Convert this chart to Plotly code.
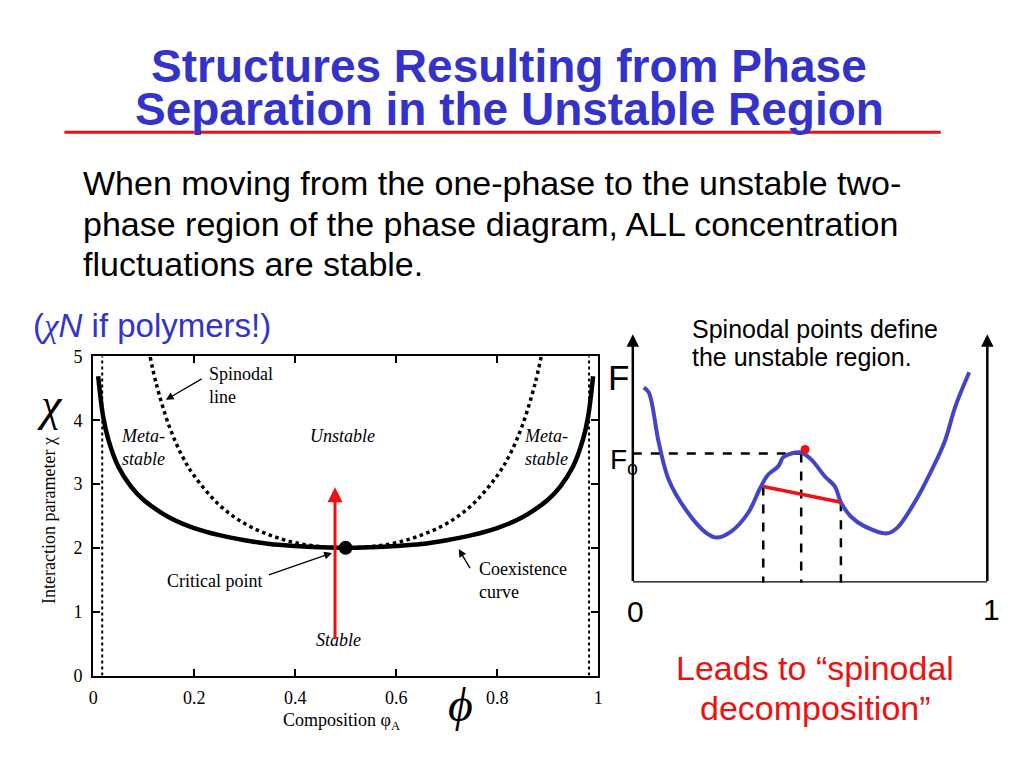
import plotly.graph_objects as go

# ---------------- data ----------------
# Left phase diagram
coex_phi = [0.01, 0.02, 0.03, 0.05, 0.075, 0.1, 0.15, 0.2, 0.25, 0.3, 0.35, 0.4, 0.45, 0.5,
            0.55, 0.6, 0.65, 0.7, 0.75, 0.8, 0.85, 0.9, 0.925, 0.95, 0.97, 0.98, 0.99]
coex_chi = [4.69, 4.05, 3.70, 3.27, 2.96, 2.75, 2.48, 2.31, 2.20, 2.12, 2.06, 2.03, 2.01, 2.00,
            2.01, 2.03, 2.06, 2.12, 2.20, 2.31, 2.48, 2.75, 2.96, 3.27, 3.70, 4.05, 4.69]
spin_phi = [0.113, 0.125, 0.15, 0.175, 0.2, 0.25, 0.3, 0.35, 0.4, 0.45, 0.5,
            0.55, 0.6, 0.65, 0.7, 0.75, 0.8, 0.825, 0.85, 0.875, 0.887]
spin_chi = [4.99, 4.57, 3.92, 3.46, 3.13, 2.67, 2.38, 2.20, 2.08, 2.02, 2.00,
            2.02, 2.08, 2.20, 2.38, 2.67, 3.13, 3.46, 3.92, 4.57, 4.99]
edge_phi = [0.018, 0.982]
chi_span = [0, 5]
critical_phi = [0.5]
critical_chi = [2.0]
quench_phi = 0.479
quench_chi = [0.55, 2.95]
x_ticks = [0, 0.2, 0.4, 0.6, 0.8, 1]
x_ticklabels = ["0", "0.2", "0.4", "0.6", "0.8", "1"]
y_ticks = [0, 1, 2, 3, 4, 5]

# Right schematic free-energy curve (arbitrary units)
f_x = [0.031, 0.045, 0.073, 0.101, 0.149, 0.205, 0.236, 0.278, 0.326, 0.360, 0.382, 0.410,
       0.424, 0.447, 0.475, 0.503, 0.542, 0.570, 0.587, 0.615, 0.654, 0.719, 0.747, 0.795,
       0.840, 0.879, 0.910, 0.949]
f_y = [0.786, 0.766, 0.565, 0.415, 0.294, 0.202, 0.181, 0.206, 0.282, 0.383, 0.435, 0.468,
       0.504, 0.520, 0.524, 0.496, 0.427, 0.387, 0.323, 0.266, 0.226, 0.198, 0.222, 0.323,
       0.444, 0.565, 0.710, 0.847]
phi1 = [0.368, 0.387]
phi0 = [0.475, 0.520]
phi2 = [0.587, 0.323]
top_point = [0.486, 0.536]

title_lines = ["Structures Resulting from Phase", "Separation in the Unstable Region"]
body_lines = ["When moving from the one-phase to the unstable two-",
              "phase region of the phase diagram, ALL concentration",
              "fluctuations are stable."]
note_lines = ["Spinodal points define", "the unstable region."]
lead_lines = ["Leads to “spinodal", "decomposition”"]

W, H = 1024, 768
# correction for how the page ends up photographed (measured empirically)
SY, CY = 0.9735, 10.8


def px(x):
    return x / W


def py(y):
    return 1 - ((y - CY) / SY) / H


fig = go.Figure()

serif = "Liberation Serif"
sans = "Liberation Sans"
BLUE = "#3333cc"
RED = "#ee1111"

# ---- left plot traces ----
for e in edge_phi:
    fig.add_trace(go.Scatter(x=[e, e], y=chi_span, mode="lines",
                             line=dict(color="black", width=2, dash="dot"),
                             xaxis="x", yaxis="y", showlegend=False, hoverinfo="skip"))
fig.add_trace(go.Scatter(x=spin_phi, y=spin_chi, mode="lines",
                         line=dict(color="black", width=3.5, dash="dot", shape="spline"),
                         xaxis="x", yaxis="y", showlegend=False))
fig.add_trace(go.Scatter(x=coex_phi, y=coex_chi, mode="lines",
                         line=dict(color="black", width=4.5, shape="spline"),
                         xaxis="x", yaxis="y", showlegend=False))
fig.add_trace(go.Scatter(x=critical_phi, y=critical_chi, mode="markers",
                         marker=dict(color="black", size=14),
                         xaxis="x", yaxis="y", showlegend=False))

# ---- right plot traces ----
fig.add_trace(go.Scatter(x=[0, phi0[0]], y=[phi0[1], phi0[1]], mode="lines",
                         line=dict(color="black", width=2.5, dash="dash"),
                         xaxis="x2", yaxis="y2", showlegend=False))
for p in (phi1, phi0, phi2):
    fig.add_trace(go.Scatter(x=[p[0], p[0]], y=[p[1], -0.03], mode="lines",
                             line=dict(color="black", width=2.5, dash="dash"),
                             xaxis="x2", yaxis="y2", showlegend=False))
fig.add_trace(go.Scatter(x=f_x, y=f_y, mode="lines",
                         line=dict(color="#4444c8", width=4, shape="spline"),
                         xaxis="x2", yaxis="y2", showlegend=False))
fig.add_trace(go.Scatter(x=[phi1[0], phi2[0]], y=[phi1[1], phi2[1]], mode="lines",
                         line=dict(color=RED, width=3.5),
                         xaxis="x2", yaxis="y2", showlegend=False))
fig.add_trace(go.Scatter(x=[top_point[0]], y=[top_point[1]], mode="markers",
                         marker=dict(color=RED, size=9),
                         xaxis="x2", yaxis="y2", showlegend=False))

ann = []


def ptext(t, x, y, size, color="black", family=sans, xanchor="center", angle=0):
    return dict(text=t, x=px(x), y=py(y), xref="paper", yref="paper", showarrow=False,
                xanchor=xanchor, yanchor="middle", textangle=angle,
                font=dict(family=family, size=size, color=color))


# ---- slide texts ----
for t, yy in zip(title_lines, [67, 110]):
    ann.append(ptext("<b>" + t + "</b>", 509, yy, 46, BLUE))
for t, yy in zip(body_lines, [184, 225, 265]):
    ann.append(ptext(t, 77, yy, 34, xanchor="left"))
ann.append(ptext("(<i><span style='font-family:Liberation Serif'>χ</span>N</i> if polymers!)",
                 26, 326, 33, BLUE, xanchor="left"))
for t, yy in zip(note_lines, [330, 358]):
    ann.append(ptext(t, 692, yy, 25, xanchor="left"))
for t, yy in zip(lead_lines, [668, 708]):
    ann.append(ptext(t, 818, yy, 34, RED))

# ---- left plot labels ----
ann.append(ptext("Interaction parameter χ", 45, 521, 18, family=serif, angle=-90))
ann.append(ptext("<i>χ</i>", 45, 405, 46, family=serif))
ann.append(ptext("Composition φ<sub>A</sub>", 340, 722, 18, family=serif))
ann.append(ptext("<i>ϕ</i>", 460, 705, 48, family=serif))


def dtext(t, x, y, italic=False, xanchor="center", align="center"):
    if italic:
        t = "<i>" + t + "</i>"
    return dict(text=t, x=x, y=y, xref="x", yref="y", showarrow=False, xanchor=xanchor,
                yanchor="middle", align=align, font=dict(family=serif, size=18, color="black"))


ann.append(dtext("Spinodal<br>line", 0.225, 4.55, xanchor="left", align="left"))
ann.append(dtext("Meta-<br>stable", 0.098, 3.58, italic=True))
ann.append(dtext("Unstable", 0.493, 3.76, italic=True))
ann.append(dtext("Meta-<br>stable", 0.897, 3.58, italic=True))
ann.append(dtext("Critical point", 0.241, 1.48))
ann.append(dtext("Coexistence<br>curve", 0.760, 1.49, xanchor="left", align="left"))
ann.append(dtext("Stable", 0.485, 0.55, italic=True))


def arrow(x, y, ax, ay, color="black", width=1.3, head=2, size=1.2, xr="x", yr="y"):
    return dict(text="", x=x, y=y, ax=ax, ay=ay, xref=xr, yref=yr, axref=xr, ayref=yr,
                showarrow=True, arrowhead=head, arrowsize=size, arrowwidth=width,
                arrowcolor=color)


ann.append(arrow(0.144, 4.32, 0.218, 4.66))
ann.append(arrow(0.473, 1.92, 0.345, 1.57))
ann.append(arrow(0.724, 1.98, 0.748, 1.66))
ann.append(arrow(quench_phi, quench_chi[1], quench_phi, quench_chi[0], color=RED,
                 width=3, head=2, size=1.0))

# ---- right plot labels and axes ----
ann.append(arrow(0, 1, 0, 0, width=2.5, head=2, size=1.0, xr="x2", yr="y2"))
ann.append(arrow(1, 1, 1, 0, width=2.5, head=2, size=1.0, xr="x2", yr="y2"))
ann.append(ptext("F", 620, 378, 35))
ann.append(ptext("F<sub>o</sub>", 625, 462, 28))
ann.append(ptext("0", 637, 612, 30))
ann.append(ptext("1", 996, 610, 30))
for lab, p in (("1", phi1), ("o", phi0), ("2", phi2)):
    ann.append(dict(text="<i>ϕ</i><sub>" + lab + "</sub>", x=p[0] + 0.02, y=-0.09,
                    xref="x2", yref="y2", showarrow=False, xanchor="center", yanchor="middle",
                    font=dict(family=serif, size=21, color="black")))

shapes = [
    dict(type="line", xref="paper", yref="paper", x0=px(60), x1=px(945), y0=py(133), y1=py(133),
         line=dict(color=RED, width=3)),
    dict(type="line", xref="x2", yref="y2", x0=0, x1=1, y0=0, y1=0,
         line=dict(color="black", width=2.5)),
]

axis_common = dict(showgrid=False, zeroline=False, showline=True, linecolor="black", linewidth=2,
                   mirror="ticks", ticks="inside", ticklen=7, tickwidth=1.5, tickcolor="black",
                   ticklabelstandoff=5,
                   tickfont=dict(family=serif, size=18, color="black"))

fig.update_layout(
    width=W, height=H, margin=dict(l=0, r=0, t=0, b=0),
    paper_bgcolor="white", plot_bgcolor="white", showlegend=False,
    xaxis=dict(domain=[px(89), px(599)], range=[0, 1], tickvals=x_ticks, ticktext=x_ticklabels,
               anchor="y", **axis_common),
    yaxis=dict(domain=[py(676), py(357)], range=[0, 5], tickvals=y_ticks, anchor="x",
               **axis_common),
    xaxis2=dict(domain=[px(634), px(992)], range=[0, 1], visible=False, anchor="y2"),
    yaxis2=dict(domain=[py(583), py(335)], range=[0, 1], visible=False, anchor="x2"),
    annotations=ann, shapes=shapes,
)

fig.write_html("out.html", config={"displayModeBar": False},
               post_script="document.body.style.margin='0px';")
